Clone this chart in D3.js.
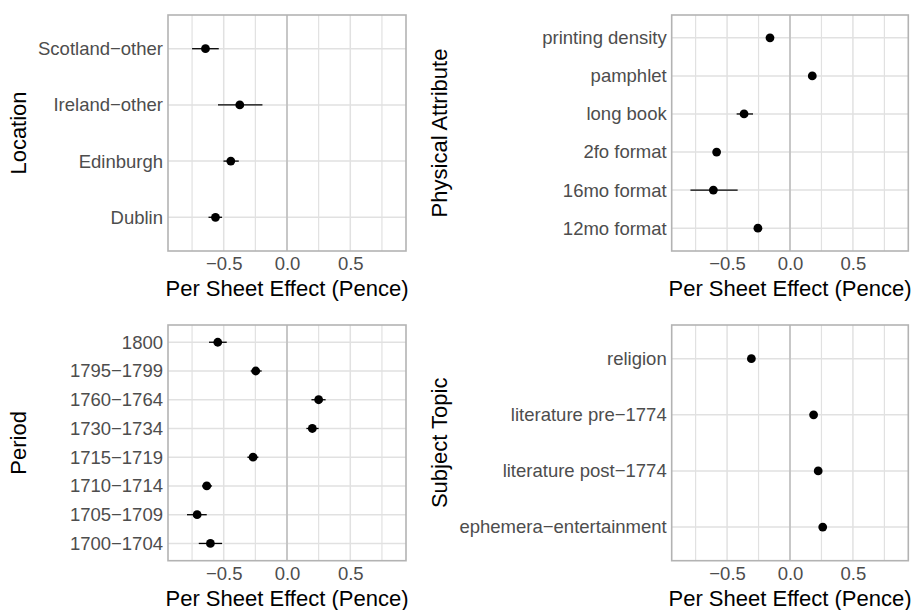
<!DOCTYPE html>
<html>
<head>
<meta charset="utf-8">
<script src="https://cdn.jsdelivr.net/npm/d3@7"></script>
<style>
  body { margin: 0; background: white; }
  svg { display: block; font-family: "Liberation Sans", Arial, Helvetica, sans-serif; }
</style>
</head>
<body>
<div id="chart"></div>
<script>
// categories listed bottom to top, as ggplot puts factor levels
const locationCats = ["Dublin", "Edinburgh", "Ireland\u2212other", "Scotland\u2212other"];
const locationEst  = [-0.565, -0.444, -0.373, -0.644];
const locationLow  = [-0.620, -0.502, -0.545, -0.750];
const locationHigh = [-0.513, -0.381, -0.194, -0.539];

const physicalCats = ["12mo format", "16mo format", "2fo format", "long book", "pamphlet", "printing density"];
const physicalEst  = [-0.255, -0.609, -0.583, -0.365, 0.177, -0.159];
const physicalLow  = [-0.272, -0.791, -0.608, -0.424, 0.162, -0.172];
const physicalHigh = [-0.238, -0.416, -0.558, -0.294, 0.192, -0.146];

const periodCats = ["1700\u22121704", "1705\u22121709", "1710\u22121714", "1715\u22121719", "1730\u22121734", "1760\u22121764", "1795\u22121799", "1800"];
const periodEst  = [-0.605, -0.710, -0.634, -0.268, 0.200, 0.250, -0.247, -0.547];
const periodLow  = [-0.697, -0.790, -0.671, -0.313, 0.153, 0.193, -0.287, -0.616];
const periodHigh = [-0.513, -0.634, -0.592, -0.226, 0.250, 0.305, -0.200, -0.476];

const subjectCats = ["ephemera\u2212entertainment", "literature post\u22121774", "literature pre\u22121774", "religion"];
const subjectEst  = [0.260, 0.224, 0.1875, -0.307];
const subjectLow  = [0.238, 0.203, 0.172, -0.322];
const subjectHigh = [0.282, 0.245, 0.203, -0.292];

const xMajor = [-0.5, 0, 0.5];
const xMinor = [-0.75, -0.25, 0.25, 0.75];
const xTitle = "Per Sheet Effect (Pence)";

const width = 917, height = 610;
const svg = d3.select("#chart").append("svg")
    .attr("width", width)
    .attr("height", height);

function drawPanel(box, yTitle, cats, est, low, high) {
    const x = d3.scaleLinear().domain([-0.94, 0.94]).range([box.left, box.right]);
    const y = d3.scalePoint().domain(cats).range([box.bottom, box.top]).padding(0.6);
    const g = svg.append("g");

    g.append("g").selectAll("line").data(xMinor).join("line")
        .attr("x1", d => x(d)).attr("x2", d => x(d))
        .attr("y1", box.top).attr("y2", box.bottom)
        .attr("stroke", "#e1e1e1").attr("stroke-width", 1.2);

    g.append("g").selectAll("line").data(xMajor).join("line")
        .attr("x1", d => x(d)).attr("x2", d => x(d))
        .attr("y1", box.top).attr("y2", box.bottom)
        .attr("stroke", "#e1e1e1").attr("stroke-width", 1.5);

    g.append("g").selectAll("line").data(cats).join("line")
        .attr("x1", box.left).attr("x2", box.right)
        .attr("y1", d => y(d)).attr("y2", d => y(d))
        .attr("stroke", "#e1e1e1").attr("stroke-width", 1.5);

    // reference line at zero
    g.append("line")
        .attr("x1", x(0)).attr("x2", x(0))
        .attr("y1", box.top).attr("y2", box.bottom)
        .attr("stroke", "#bebebe").attr("stroke-width", 1.6);

    const rows = cats.map((c, i) => ({cat: c, est: est[i], low: low[i], high: high[i]}));

    g.append("g").selectAll("line").data(rows).join("line")
        .attr("x1", d => x(d.low)).attr("x2", d => x(d.high))
        .attr("y1", d => y(d.cat)).attr("y2", d => y(d.cat))
        .attr("stroke", "black").attr("stroke-width", 1.3);

    g.append("g").selectAll("circle").data(rows).join("circle")
        .attr("cx", d => x(d.est)).attr("cy", d => y(d.cat))
        .attr("r", 4.4).attr("fill", "black");

    g.append("rect")
        .attr("x", box.left).attr("y", box.top)
        .attr("width", box.right - box.left).attr("height", box.bottom - box.top)
        .attr("fill", "none").attr("stroke", "#b3b3b3").attr("stroke-width", 1.6);

    const xAxis = g.append("g")
        .attr("transform", `translate(0,${box.bottom})`)
        .call(d3.axisBottom(x).tickValues(xMajor).tickSize(0).tickPadding(0)
            .tickFormat(d => d3.format(".1f")(d).replace("-", "\u2212")));
    xAxis.select(".domain").remove();
    xAxis.selectAll("text")
        .attr("y", 19).attr("dy", null)
        .attr("font-size", "18.5px").attr("fill", "#4d4d4d")
        .attr("font-family", "Liberation Sans, Arial, sans-serif");

    const yAxis = g.append("g")
        .attr("transform", `translate(${box.left},0)`)
        .call(d3.axisLeft(y).tickSize(0).tickPadding(5));
    yAxis.select(".domain").remove();
    yAxis.selectAll("text")
        .attr("font-size", "18.5px").attr("fill", "#4d4d4d")
        .attr("font-family", "Liberation Sans, Arial, sans-serif");

    g.append("text")
        .attr("x", (box.left + box.right) / 2).attr("y", box.bottom + 45)
        .attr("text-anchor", "middle").attr("font-size", "22px").attr("fill", "black")
        .text(xTitle);

    g.append("text")
        .attr("transform", `translate(${box.titleX},${(box.top + box.bottom) / 2}) rotate(-90)`)
        .attr("text-anchor", "middle").attr("font-size", "22px").attr("fill", "black")
        .text(yTitle);
}

drawPanel({left: 168, right: 406, top: 15, bottom: 251, titleX: 25.5}, "Location",
    locationCats, locationEst, locationLow, locationHigh);
drawPanel({left: 671.7, right: 908.3, top: 15, bottom: 251, titleX: 446.5}, "Physical Attribute",
    physicalCats, physicalEst, physicalLow, physicalHigh);
drawPanel({left: 168, right: 406, top: 325, bottom: 560.7, titleX: 25.5}, "Period",
    periodCats, periodEst, periodLow, periodHigh);
drawPanel({left: 671.7, right: 908.3, top: 325, bottom: 560.7, titleX: 446.5}, "Subject Topic",
    subjectCats, subjectEst, subjectLow, subjectHigh);
</script>
</body>
</html>
